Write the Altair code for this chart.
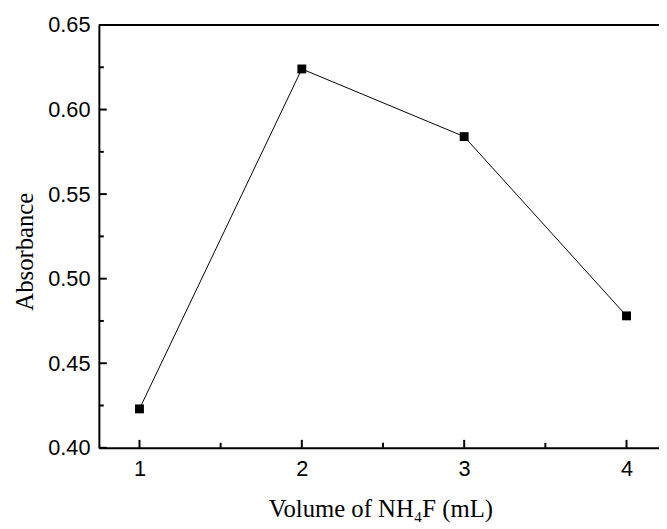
import altair as alt
import pandas as pd

volume = [1, 2, 3, 4]
absorbance = [0.423, 0.624, 0.584, 0.478]

x_major = [1, 2, 3, 4]
x_minor = [1.5, 2.5, 3.5]
y_major = [0.40, 0.45, 0.50, 0.55, 0.60, 0.65]
y_minor = [0.425, 0.475, 0.525, 0.575, 0.625]

W, H = 567, 428

df = pd.DataFrame({"v": volume, "a": absorbance})
xs = alt.Scale(domain=[0.75, 4.2], nice=False, zero=False)
ys = alt.Scale(domain=[0.40, 0.65], nice=False, zero=False)

main_line = alt.Chart(df).mark_line(color="black", strokeWidth=1).encode(
    x=alt.X("v:Q", scale=xs, axis=alt.Axis(
        values=x_major, format="d", tickSize=0, grid=False, domainColor="black", domainWidth=2,
        labelFont="Liberation Sans", labelFontSize=22, labelColor="black", labelPadding=11,
        title="Volume of NH₄F (mL)", titleFont="Liberation Serif", titleFontSize=25,
        titleFontWeight="normal", titleColor="black", titleX=285, titleY=70,
        titleBaseline="alphabetic", titleAlign="center")),
    y=alt.Y("a:Q", scale=ys, axis=alt.Axis(
        values=y_major, format=".2f", tickSize=0, grid=False, domainColor="black", domainWidth=2,
        labelFont="Liberation Sans", labelFontSize=22, labelColor="black", labelPadding=9,
        title="Absorbance", titleFont="Liberation Serif", titleFontSize=25,
        titleFontWeight="normal", titleColor="black", titleX=-67, titleY=229,
        titleAngle=270, titleBaseline="alphabetic", titleAlign="center")),
)
points = alt.Chart(df).mark_point(shape="square", filled=True, color="black", size=81, opacity=1).encode(
    x=alt.X("v:Q", scale=xs), y=alt.Y("a:Q", scale=ys)
)

def xticks(vals, length):
    return alt.Chart(pd.DataFrame({"v": vals})).mark_rule(color="black", strokeWidth=2).encode(
        x=alt.X("v:Q", scale=xs), y=alt.value(H), y2=alt.value(H - length))

def yticks(vals, length):
    return alt.Chart(pd.DataFrame({"a": vals})).mark_rule(color="black", strokeWidth=2).encode(
        y=alt.Y("a:Q", scale=ys), x=alt.value(0), x2=alt.value(length))

top = alt.Chart(pd.DataFrame({"k": [0]})).mark_rule(color="black", strokeWidth=2).encode(
    x=alt.value(0), x2=alt.value(W), y=alt.value(0))

chart = alt.layer(
    main_line, points,
    xticks(x_major, 8), xticks(x_minor, 5), yticks(y_major, 8), yticks(y_minor, 5),
    top,
).properties(
    width=W, height=H,
    autosize=alt.AutoSizeParams(type="none"),
    padding={"left": 92, "top": 14, "right": 0, "bottom": 78},
).configure_view(stroke=None)

chart.save("out.html", embed_options={"renderer": "svg", "actions": False})
